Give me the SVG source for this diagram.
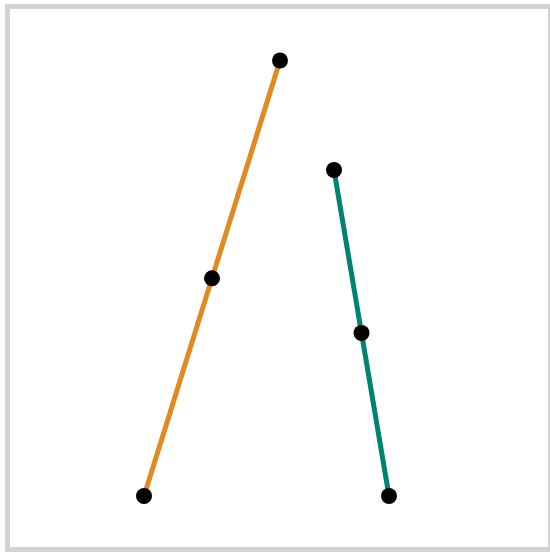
<svg xmlns="http://www.w3.org/2000/svg" width="550" height="552" viewBox="0 0 550 552">
<style>
.ln{stroke-width:5;fill:none;stroke-linecap:butt}
.pt{fill:#000}
</style>
<rect x="0" y="0" width="550" height="552" fill="#fff"/>
<rect x="7.5" y="6.5" width="543" height="543" fill="#fff" stroke="#d3d3d3" stroke-width="5"/>
<g id="connectors">
<line class="ln" x1="144" y1="496" x2="280" y2="60.5" stroke="#e08a22"/>
<line class="ln" x1="334" y1="170" x2="389" y2="496" stroke="#008272"/>
</g>
<g id="p1"><circle class="pt" cx="280" cy="60.5" r="8"/></g>
<g id="p2"><circle class="pt" cx="212" cy="278.3" r="8"/></g>
<g id="p3"><circle class="pt" cx="144" cy="496" r="8"/></g>
<g id="p4"><circle class="pt" cx="334" cy="170" r="8"/></g>
<g id="p5"><circle class="pt" cx="361.5" cy="333" r="8"/></g>
<g id="p6"><circle class="pt" cx="389" cy="496" r="8"/></g>
</svg>
